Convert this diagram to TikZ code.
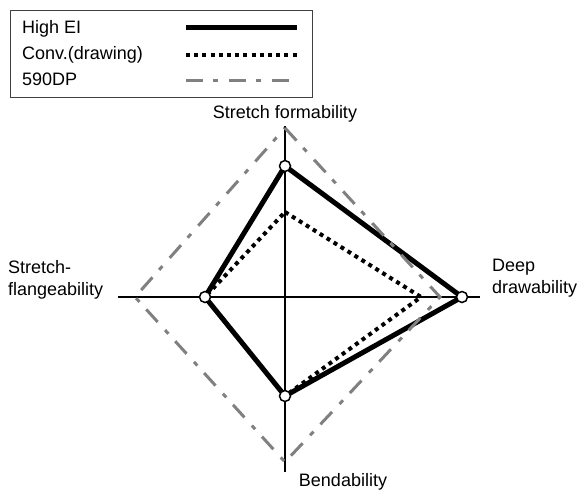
\documentclass[tikz,border=0pt]{standalone}
\usepackage{fontspec}
\setmainfont{Liberation Sans}

\begin{document}
\begin{tikzpicture}[x=1pt, y=-1pt,
                    axisline/.style={line width=1.5pt},
                    highel/.style={line width=5pt, line join=round},
                    conv/.style={line width=4pt, dash pattern=on 4pt off 4.2pt},
                    dpline/.style={line width=3pt, draw=gray, dash pattern=on 17pt off 10pt on 5pt off 11pt},
                    datapoint/.style={circle, draw, fill=white, line width=1.5pt, inner sep=0pt, minimum size=11pt},
                    lbl/.style={font=\fontsize{18}{22}\selectfont, inner sep=0pt}]
  \useasboundingbox (0,0) rectangle (580,491);

  % legend
  \draw[black!75, line width=1pt] (10,10) rectangle (312,97);
  \node[lbl, anchor=base west] (leghi) at (22,33) {High EI};
  \node[lbl, anchor=base west] (legcv) at (22,59) {Conv.(drawing)};
  \node[lbl, anchor=base west] (legdp) at (22,85) {590DP};
  \coordinate (hi-a) at (186,27.7);  \coordinate (hi-b) at (297,27.7);
  \coordinate (cv-a) at (186,55);    \coordinate (cv-b) at (297,55);
  \coordinate (dp-a) at (186,80);    \coordinate (dp-b) at (297,80);
  \draw[highel] (hi-a) -- (hi-b);
  \draw[conv] (cv-a) -- (cv-b);
  \draw[dpline] (dp-a) -- (dp-b);

  % axes
  \coordinate (o)  at (285,297);
  \coordinate (sf) at (285,126);
  \coordinate (dd) at (480,297);
  \coordinate (bd) at (285,472);
  \coordinate (fl) at (118,297);
  \draw[axisline] (fl) -- (dd);
  \draw[axisline, line width=2.5pt] (sf) -- (bd);

  % data
  \coordinate (hi-sf) at (285,166);
  \coordinate (hi-dd) at (462,297);
  \coordinate (hi-bd) at (285,396);
  \coordinate (hi-fl) at (205,297);
  \coordinate (cv-sf) at (285,212);
  \coordinate (cv-dd) at (421,297);
  \coordinate (cv-bd) at (285,396);
  \coordinate (cv-fl) at (205,297);
  \coordinate (dp-sf) at (285,128);
  \coordinate (dp-dd) at (440,297);
  \coordinate (dp-bd) at (285,462);
  \coordinate (dp-fl) at (135,297);
  \draw[highel] (hi-sf) -- (hi-dd) -- (hi-bd) -- (hi-fl) -- cycle;
  \draw[conv] (cv-sf) -- (cv-dd) -- (cv-bd) -- (cv-fl) -- cycle;
  \draw[dpline] (dp-sf) -- (dp-dd) -- (dp-bd) -- (dp-fl) -- cycle;
  \node[datapoint] (p1) at (hi-sf) {};
  \node[datapoint] (p2) at (hi-dd) {};
  \node[datapoint] (p3) at (hi-bd) {};
  \node[datapoint] (p4) at (hi-fl) {};

  % labels
  \node[lbl, anchor=base] (lsf) at (285,118) {Stretch formability};
  \node[lbl, anchor=base west, align=left] (ldd) at (492,293) {Deep\\drawability};
  \node[lbl, anchor=base west, align=left] (lfl) at (8,295) {Stretch-\\flangeability};
  \node[lbl, anchor=base] (lbd) at (343,486) {Bendability};
\end{tikzpicture}
\end{document}
